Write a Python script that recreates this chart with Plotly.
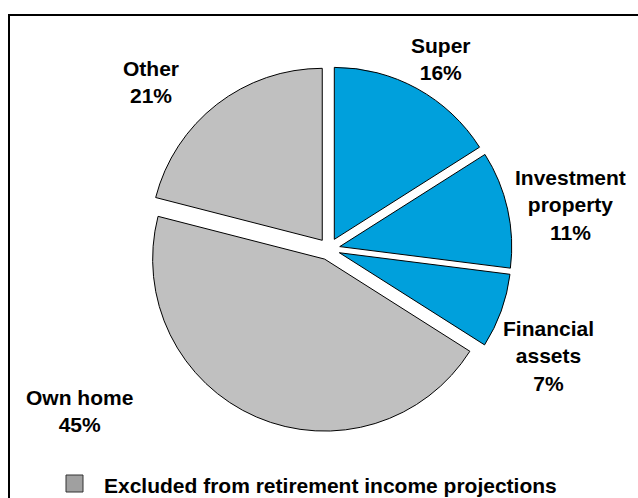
import plotly.graph_objects as go

# ---- data ----
categories = ["Super", "Investment property", "Financial assets", "Own home", "Other"]
values = [16, 11, 7, 45, 21]
included = [True, True, True, False, False]
label_lines = [["Super"], ["Investment", "property"], ["Financial", "assets"], ["Own home"], ["Other"]]
legend_text = "Excluded from retirement income projections"

# ---- styling / layout positions (pixels in 638x498 canvas) ----
W, H = 638, 498
BLUE = "#00A0DC"
GREY = "#C0C0C0"
FONT = "Liberation Sans, Arial, sans-serif"
label_pos = [(441, 59), (570, 205), (548, 356), (80, 411), (151, 82)]

def px(x):
    return x / W

def py(y):
    return 1 - y / H

colors = [BLUE if inc else GREY for inc in included]

fig = go.Figure(
    go.Pie(
        labels=categories,
        values=values,
        sort=False,
        direction="clockwise",
        rotation=0,
        pull=[0.064] * len(values),
        marker=dict(colors=colors, line=dict(color="#000000", width=1)),
        textinfo="none",
        hoverinfo="label+percent",
        showlegend=False,
        domain=dict(x=[px(146), px(512)], y=[py(432), py(66)]),
    )
)

annotations = []
for lines, v, (lx, ly) in zip(label_lines, values, label_pos):
    text = "<br>".join(f"<b>{t}</b>" for t in lines + [f"{v}%"])
    annotations.append(dict(
        x=px(lx), y=py(ly), xref="paper", yref="paper",
        text=text, showarrow=False, xanchor="center", yanchor="middle",
        align="center", font=dict(family=FONT, size=21, color="#000000"),
    ))

# legend text
annotations.append(dict(
    x=px(102), y=py(485), xref="paper", yref="paper",
    text=f"<b>{legend_text}</b>", showarrow=False, xanchor="left", yanchor="middle",
    font=dict(family=FONT, size=21, color="#000000"),
))

shapes = [
    # chart border (right and bottom edges fall outside the canvas)
    dict(type="rect", xref="paper", yref="paper",
         x0=px(9), y0=py(15), x1=px(W + 20), y1=py(H + 20),
         line=dict(color="#000000", width=2), fillcolor="rgba(0,0,0,0)"),
    # legend swatch
    dict(type="rect", xref="paper", yref="paper",
         x0=px(66), y0=py(475), x1=px(83), y1=py(492),
         line=dict(color="#333333", width=1), fillcolor="#A0A0A0"),
]

fig.update_layout(
    width=W, height=H,
    margin=dict(l=0, r=0, t=0, b=0, pad=0),
    paper_bgcolor="#FFFFFF", plot_bgcolor="#FFFFFF",
    annotations=annotations, shapes=shapes,
    font=dict(family=FONT),
)

fig.write_html(
    "out.html",
    config={"displayModeBar": False},
    post_script="document.body.style.margin='0';document.body.style.overflow='hidden';",
)
